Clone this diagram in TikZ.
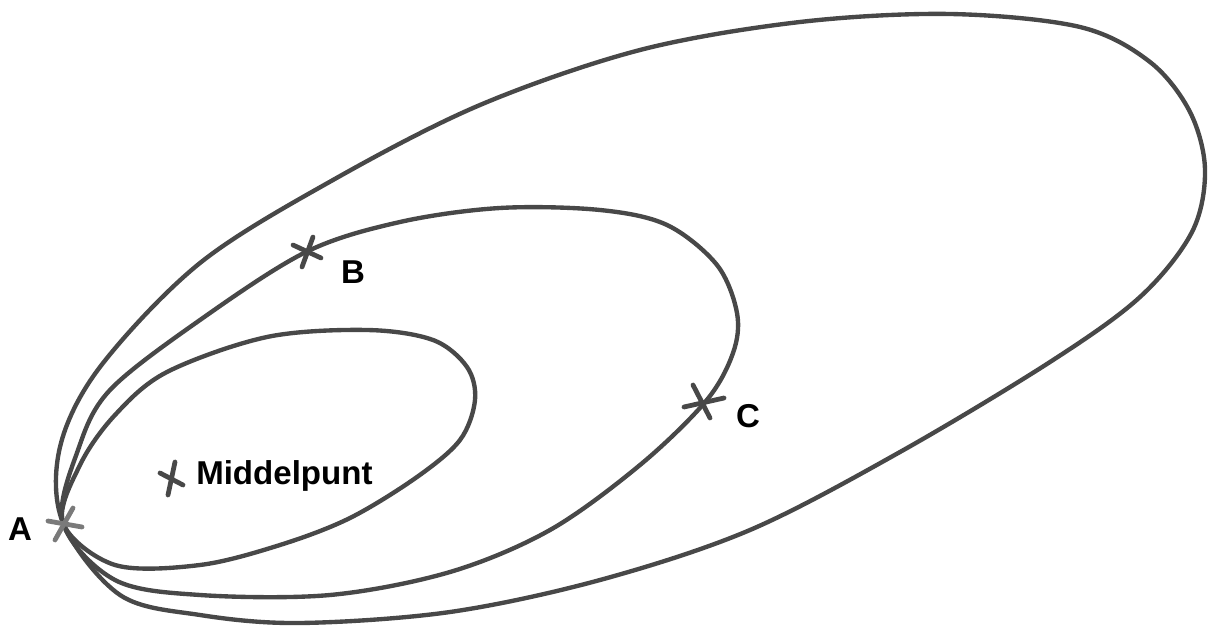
\documentclass[tikz,border=0pt]{standalone}
\usepackage{fontspec}
\setmainfont{Liberation Sans}
\definecolor{curvegray}{HTML}{484848}
\definecolor{agray}{HTML}{7A7A7A}
\begin{document}
\begin{tikzpicture}[x=0.025cm,y=-0.025cm,
  curve/.style={draw=curvegray, line width=3.1pt, line cap=round, line join=round},
  xmark/.style={draw=curvegray, line width=3.4pt, line cap=round},
  lbl/.style={font=\fontsize{23.5}{25}\selectfont\bfseries, text=black, inner sep=0pt}]
\useasboundingbox (0,0) rectangle (1208,628);
\coordinate (A) at (63,523);
\coordinate (B) at (306,252);
\coordinate (C) at (706,401);
\coordinate (M) at (172,479);
% outer loop
\draw[curve] plot[smooth cycle, tension=0.55] coordinates {
  (63,523) (60,447) (100,367) (200,263) (333,180) (480,105) (640,50) (800,22)
  (950,14) (1080,27) (1150,62) (1190,112) (1205,170) (1192,232)
  (1140,297) (1050,362) (900,452) (750,530) (600,580) (450,612) (300,623)
  (200,615) (120,595)};
% middle loop
\draw[curve] plot[smooth cycle, tension=0.55] coordinates {
  (63,523) (78,450) (110,390) (200,320) (306,252) (400,222) (500,208) (600,210)
  (667,225) (717,265) (737,313) (733,353) (706,401) (640,465) (550,530)
  (450,572) (330,595) (200,595) (115,580)};
% inner loop
\draw[curve] plot[smooth cycle, tension=0.55] coordinates {
  (63,523) (80,465) (115,415) (167,372) (267,337) (367,330) (433,340) (467,367)
  (475,400) (460,440) (417,477) (350,518) (280,545) (200,565) (115,565)};
% crosses
\draw[xmark, draw=agray] (A) ++(-15,-2) -- ++(34,6);
\draw[xmark, draw=agray] (A) ++(10,-15) -- ++(-18,32);
\draw[xmark] (B) ++(-13,-7) -- ++(28,13);
\draw[xmark] (B) ++(7,-15) -- ++(-11,30);
\draw[xmark] (C) ++(-13,-16) -- ++(17,33);
\draw[xmark] (C) ++(-22,6) -- ++(40,-9);
\draw[xmark] (M) ++(-12,-6) -- ++(23,12);
\draw[xmark] (M) ++(3,-17) -- ++(-7,33);
% labels
\node[lbl] (lA) at (20,529) {A};
\node[lbl] (lB) at (353,272) {B};
\node[lbl] (lC) at (748,416) {C};
\node[lbl, anchor=west] (lM) at (196,476) {Middelpunt};
\end{tikzpicture}
\end{document}
